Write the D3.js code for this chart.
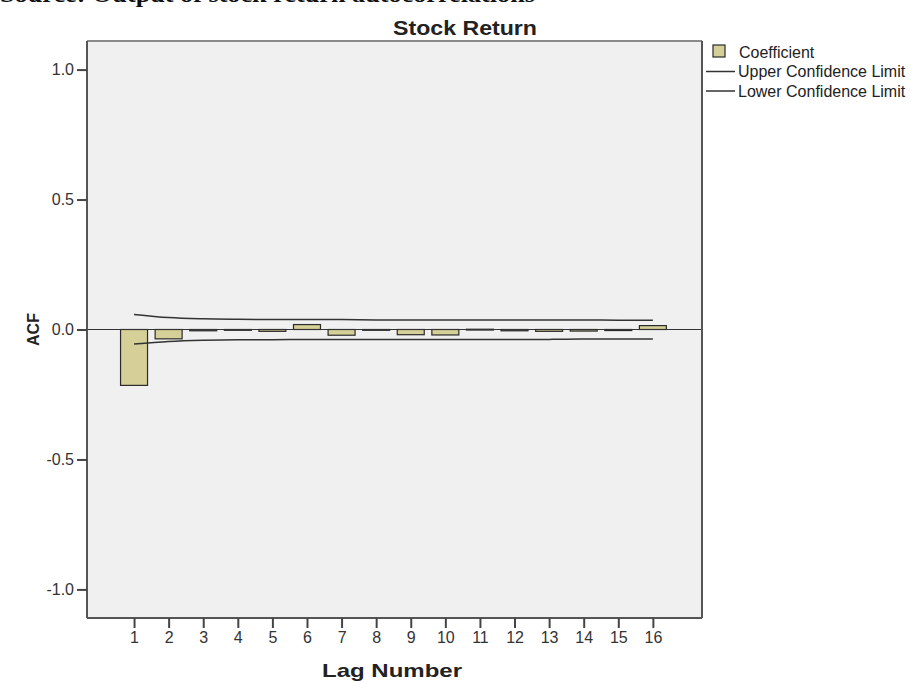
<!DOCTYPE html>
<html>
<head>
<meta charset="utf-8">
<script src="https://cdn.jsdelivr.net/npm/d3@7/dist/d3.min.js"></script>
<style>
  html, body { margin: 0; padding: 0; background: #fff; }
  svg { display: block; }
  text { font-family: "Liberation Sans", Arial, sans-serif; fill: #222; }
</style>
</head>
<body>
<svg id="chart" width="911" height="682"></svg>
<script>
// Autocorrelation function of stock returns, lags 1-16
const lags = [1, 2, 3, 4, 5, 6, 7, 8, 9, 10, 11, 12, 13, 14, 15, 16];
const acf = [-0.215, -0.036, -0.005, -0.002, -0.007, 0.019, -0.022, -0.002,
             -0.020, -0.021, 0.001, -0.005, -0.007, -0.006, -0.004, 0.015];
const upperLimit = [0.058, 0.046, 0.041, 0.039, 0.038, 0.038, 0.038, 0.037,
                    0.037, 0.037, 0.037, 0.037, 0.037, 0.037, 0.036, 0.036];
const lowerLimit = [-0.056, -0.046, -0.041, -0.039, -0.039, -0.038, -0.038, -0.038,
                    -0.038, -0.038, -0.038, -0.038, -0.038, -0.037, -0.037, -0.037];
const yTicks = [1.0, 0.5, 0.0, -0.5, -1.0];
const legendItems = ["Coefficient", "Upper Confidence Limit", "Lower Confidence Limit"];

const svg = d3.select("#chart");
const plotL = 87, plotR = 702, plotT = 41, plotB = 618;

const x = d3.scaleLinear().domain([-0.36, 17.42]).range([plotL, plotR]);
const y = d3.scaleLinear().domain([-1.11, 1.11]).range([plotB, plotT]);

// caption running off the top of the page
svg.append("text")
  .attr("x", 0).attr("y", 2)
  .attr("textLength", 535).attr("lengthAdjust", "spacingAndGlyphs")
  .style("font-family", "'Liberation Serif', 'Times New Roman', serif")
  .style("font-weight", "bold").style("font-size", "24px").style("fill", "#111")
  .text("Source: Output of stock return autocorrelations");

// plot background
svg.append("rect")
  .attr("x", plotL).attr("y", plotT)
  .attr("width", plotR - plotL).attr("height", plotB - plotT)
  .attr("fill", "#f0f0f0");

// bars
const halfW = 0.39;
svg.append("g").selectAll("rect")
  .data(lags)
  .join("rect")
  .attr("x", (d) => x(d - halfW))
  .attr("width", (d) => x(d + halfW) - x(d - halfW))
  .attr("y", (d, i) => y(Math.max(0, acf[i])))
  .attr("height", (d, i) => Math.max(0.8, Math.abs(y(acf[i]) - y(0))))
  .attr("fill", "#d5cf98")
  .attr("stroke", "#2a2a2a")
  .attr("stroke-width", 1.2);

// zero reference line
svg.append("line")
  .attr("x1", plotL).attr("x2", plotR)
  .attr("y1", y(0)).attr("y2", y(0))
  .attr("stroke", "#333").attr("stroke-width", 1.2);

// confidence limits
const line = d3.line()
  .x((d, i) => x(lags[i]))
  .y((d) => y(d))
  .curve(d3.curveMonotoneX);

[upperLimit, lowerLimit].forEach((arr) => {
  svg.append("path")
    .attr("d", line(arr))
    .attr("fill", "none")
    .attr("stroke", "#333")
    .attr("stroke-width", 1.5);
});

// frame
svg.append("line").attr("x1", plotL).attr("x2", plotR).attr("y1", plotT).attr("y2", plotT)
  .attr("stroke", "#8a8a8a").attr("stroke-width", 2);
svg.append("line").attr("x1", plotR).attr("x2", plotR).attr("y1", plotT).attr("y2", plotB)
  .attr("stroke", "#555").attr("stroke-width", 2);

// y axis
const yAxis = svg.append("g")
  .attr("transform", `translate(${plotL},0)`)
  .call(d3.axisLeft(y).tickValues(yTicks).tickSize(10).tickPadding(3)
    .tickFormat((d) => d.toFixed(1)));
yAxis.select(".domain").attr("stroke", "#555").attr("stroke-width", 2)
  .attr("d", `M0,${plotT}V${plotB}`);
yAxis.selectAll(".tick line").attr("stroke", "#444").attr("stroke-width", 2);
yAxis.selectAll(".tick text").style("font-size", "16px").style("fill", "#333")
  .style("font-family", "'Liberation Sans', Arial, sans-serif");

// x axis
const xAxis = svg.append("g")
  .attr("transform", `translate(0,${plotB})`)
  .call(d3.axisBottom(x).tickValues(lags).tickSize(10).tickPadding(4)
    .tickFormat(d3.format("d")));
xAxis.select(".domain").attr("stroke", "#555").attr("stroke-width", 2)
  .attr("d", `M${plotL},0H${plotR}`);
xAxis.selectAll(".tick line").attr("stroke", "#444").attr("stroke-width", 2);
xAxis.selectAll(".tick text").style("font-size", "16px").style("fill", "#333")
  .style("font-family", "'Liberation Sans', Arial, sans-serif");

// titles
svg.append("text")
  .attr("x", 465).attr("y", 35).attr("text-anchor", "middle")
  .attr("textLength", 144).attr("lengthAdjust", "spacingAndGlyphs")
  .style("font-weight", "bold").style("font-size", "20px")
  .text("Stock Return");

svg.append("text")
  .attr("x", 392).attr("y", 677).attr("text-anchor", "middle")
  .attr("textLength", 140).attr("lengthAdjust", "spacingAndGlyphs")
  .style("font-weight", "bold").style("font-size", "19px")
  .text("Lag Number");

svg.append("text")
  .attr("transform", `translate(39,${y(0)}) rotate(-90)`)
  .attr("text-anchor", "middle")
  .style("font-weight", "bold").style("font-size", "16px")
  .text("ACF");

// legend
const legend = svg.append("g");
legend.append("rect")
  .attr("x", 713).attr("y", 45).attr("width", 12).attr("height", 12)
  .attr("fill", "#d5cf98").attr("stroke", "#2a2a2a").attr("stroke-width", 1.2);
legendItems.forEach((label, i) => {
  const cy = 52 + i * 19.5;
  if (i > 0) {
    legend.append("line")
      .attr("x1", 706).attr("x2", 735).attr("y1", cy).attr("y2", cy)
      .attr("stroke", "#333").attr("stroke-width", 1.5);
  }
  legend.append("text")
    .attr("x", i === 0 ? 739 : 738).attr("y", cy + 5.5)
    .style("font-size", "16px").style("fill", "#222")
    .text(label);
});
</script>
</body>
</html>
